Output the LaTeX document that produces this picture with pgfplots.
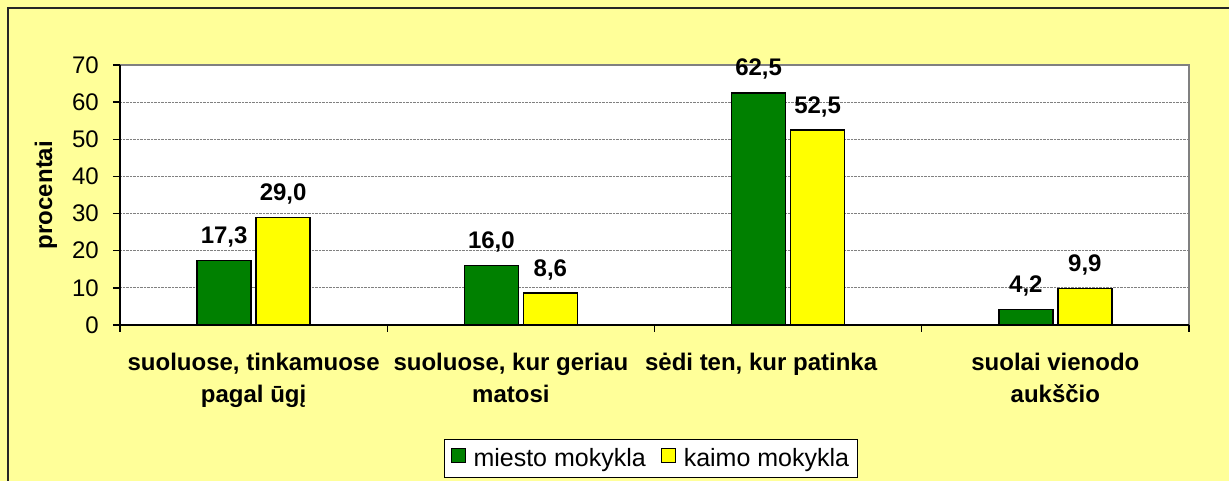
\documentclass[border=0pt]{standalone}
\usepackage{fontspec}
\setmainfont{Liberation Sans}
\usepackage{pgfplots}
\pgfplotsset{compat=1.18}

\definecolor{chartbg}{HTML}{FFFF99}
\definecolor{barcity}{HTML}{008000}
\definecolor{barvillage}{HTML}{FFFF00}
\definecolor{gridgray}{HTML}{808080}

\begin{document}
\begin{tikzpicture}
% page frame; the plot area's lower-left corner is at the origin
\useasboundingbox (-120pt,-156pt) rectangle (1109pt,325pt);
\clip (-120pt,-156pt) rectangle (1109pt,325pt);
\fill[chartbg] (-120pt,-156pt) rectangle (1109pt,325pt);
\draw[line width=2.5pt,black!85] (-112pt,-170pt) -- (-112pt,317pt) -- (1120pt,317pt);

\begin{axis}[
  at={(0pt,0pt)}, anchor=south west,
  scale only axis, width=1069pt, height=260pt,
  xmin=0, xmax=4, ymin=0, ymax=70,
  enlargelimits=false, clip=false,
  axis x line*=bottom, axis y line*=left,
  axis line style={black, line width=1.3pt},
  axis background/.style={fill=white, draw=gridgray, line width=1.2pt},
  ybar=5pt, bar width=54pt,
  xtick={0.5,1.5,2.5,3.5},
  xticklabels={{suoluose, tinkamuose\\pagal ūgį},
    {suoluose, kur geriau\rule{20pt}{0pt}\\matosi\rule{20pt}{0pt}},
    {sėdi ten, kur patinka\rule{54pt}{0pt}},
    {suolai vienodo\\aukščio}},
  minor xtick={0,1,2,3,4},
  major x tick style={draw=none},
  ytick={0,10,...,70},
  tick align=outside, major tick length=7pt, minor tick length=7pt,
  tick style={black, line width=1.3pt},
  ymajorgrids, grid style={gridgray, densely dotted, line width=0.8pt},
  /pgf/number format/assume math mode=true,
  yticklabel style={font=\fontsize{24}{28}\selectfont, inner sep=0pt, xshift=-14pt},
  xticklabel style={font=\fontsize{24}{32}\selectfont\bfseries, align=center, inner sep=0pt, yshift=-21pt},
  ylabel={procentai},
  every axis y label/.style={at={(axis description cs:-0.0636,0.5)}, rotate=90, anchor=base,
    font=\fontsize{24}{28}\selectfont\bfseries},
  nodes near coords,
  point meta=explicit,
  every node near coord/.append style={font=\fontsize{24}{28}\selectfont\bfseries, anchor=base, yshift=17pt, inner sep=0pt,
    /pgf/number format/.cd, fixed, fixed zerofill, precision=1, use comma},
  legend columns=2,
  legend style={at={(axis description cs:0.3031,-0.4385)}, anchor=north west,
    draw=black, line width=1pt, fill=white, font=\fontsize{25}{29}\selectfont,
    inner xsep=6pt, inner ysep=7pt,
    /tikz/every odd column/.append style={column sep=6pt},
    /tikz/every even column/.append style={column sep=13pt}},
  legend image code/.code={\draw[#1, draw=black, line width=1pt] (0pt,-4pt) rectangle (14pt,10pt);},
]
\addplot[fill=barcity, draw=black, line width=1.3pt] coordinates {(0.5,17.3) [17.3] (1.5,16.0) [16.0] (2.5,62.5) [62.5] (3.5,4.2) [4.2]};
\addplot[fill=barvillage, draw=black, line width=1.3pt] coordinates {(0.5,29.0) [29.0] (1.5,8.6) [8.6] (2.5,52.5) [52.5] (3.5,9.9) [9.9]};
\legend{miesto mokykla, kaimo mokykla}
\end{axis}
\end{tikzpicture}
\end{document}
